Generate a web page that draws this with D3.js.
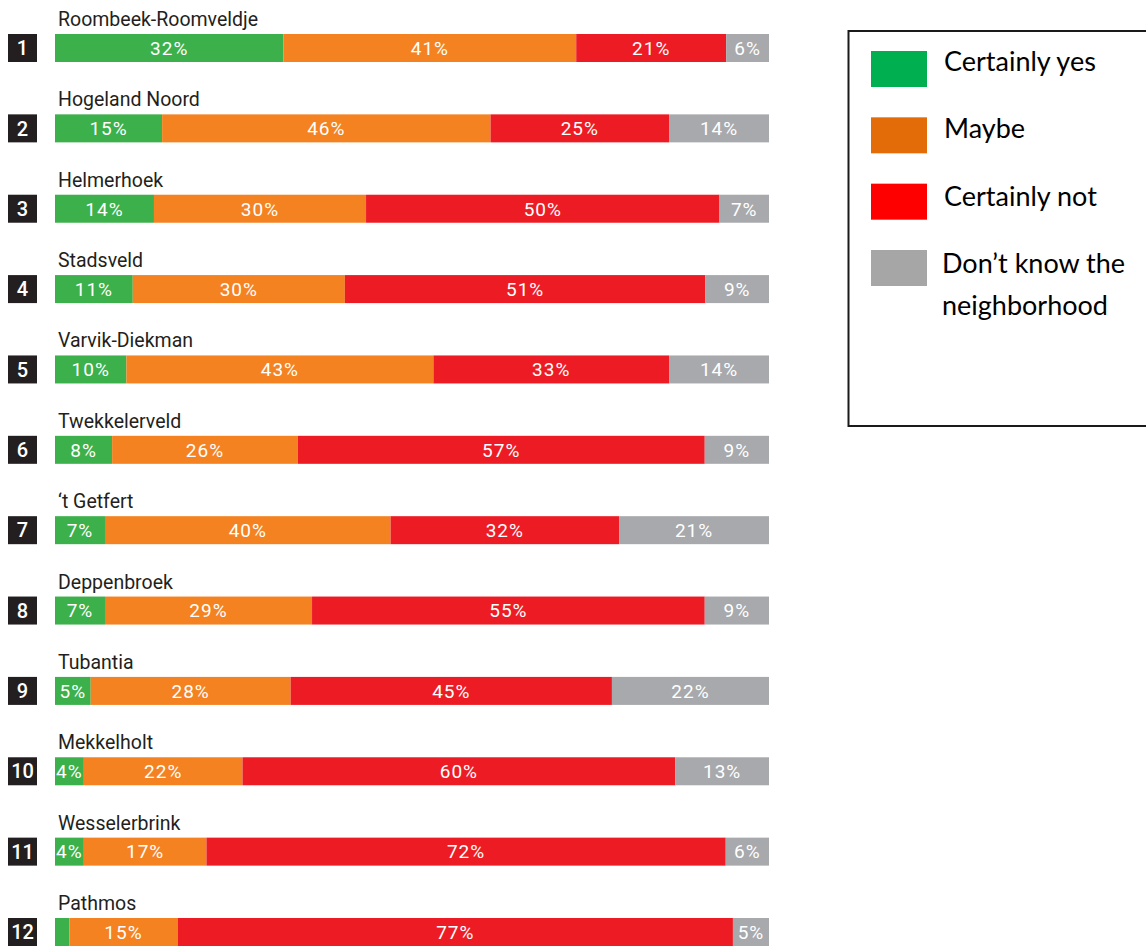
<!DOCTYPE html>
<html>
<head>
<meta charset="utf-8">
<script src="https://cdn.jsdelivr.net/npm/d3@7"></script>
<style>
  html, body { margin: 0; padding: 0; background: #fff; }
  svg { display: block; }
</style>
</head>
<body>
<svg id="chart" width="1146" height="946"></svg>
<script>
// Neighbourhoods, ranked
const categories = [
  "Roombeek-Roomveldje", "Hogeland Noord", "Helmerhoek", "Stadsveld",
  "Varvik-Diekman", "Twekkelerveld", "\u2018t Getfert", "Deppenbroek",
  "Tubantia", "Mekkelholt", "Wesselerbrink", "Pathmos"
];
const ranks = ["1", "2", "3", "4", "5", "6", "7", "8", "9", "10", "11", "12"];

// Answer shares per neighbourhood (%)
const certainlyYes = [32, 15, 14, 11, 10, 8, 7, 7, 5, 4, 4, 2];
const maybe        = [41, 46, 30, 30, 43, 26, 40, 29, 28, 22, 17, 15];
const certainlyNot = [21, 25, 50, 51, 33, 57, 32, 55, 45, 60, 72, 77];
const dontKnow     = [6, 14, 7, 9, 14, 9, 21, 9, 22, 13, 6, 5];

const seriesNames = ["Certainly yes", "Maybe", "Certainly not", "Don\u2019t know the neighborhood"];
const seriesKeys = ["yes", "maybe", "not", "unknown"];
const legendLines = [["Certainly yes"], ["Maybe"], ["Certainly not"], ["Don\u2019t know the", "neighborhood"]];

const barColors = ["#3cb04a", "#f48221", "#ed1c24", "#a7a9ac"];
const legendColors = ["#00b050", "#e36c09", "#ff0000", "#a6a6a6"];

const rows = categories.map((name, i) => ({
  name, rank: ranks[i],
  yes: certainlyYes[i], maybe: maybe[i], not: certainlyNot[i], unknown: dontKnow[i]
}));

const svg = d3.select("#chart");

const barLeft = 55, barRight = 769;
const y = d3.scaleBand()
  .domain(d3.range(rows.length))
  .range([34, 946])
  .paddingInner(0.6516)
  .paddingOuter(0);

const stacked = d3.stack().keys(seriesKeys)(rows);

const row = svg.selectAll("g.row")
  .data(rows)
  .join("g")
  .attr("class", "row")
  .attr("transform", (d, i) => `translate(0,${y(i)})`);

// neighbourhood names
row.append("text")
  .attr("x", 58)
  .attr("y", -8)
  .attr("font-family", "Roboto, sans-serif")
  .attr("font-size", 19.5)
  .attr("fill", "#231f20")
  .text(d => d.name);

// rank badges
row.append("rect")
  .attr("x", 8).attr("y", 0)
  .attr("width", 29).attr("height", y.bandwidth())
  .attr("fill", "#231f20");
row.append("text")
  .attr("x", 22.5)
  .attr("y", y.bandwidth() / 2)
  .attr("dy", "0.36em")
  .attr("text-anchor", "middle")
  .attr("font-family", "Roboto, sans-serif")
  .attr("font-weight", 500)
  .attr("font-size", 20)
  .attr("fill", "#fff")
  .text(d => d.rank);

// stacked segments, each bar scaled to its own total
rows.forEach((d, i) => {
  const total = seriesKeys.reduce((s, k) => s + d[k], 0);
  const x = d3.scaleLinear().domain([0, total]).range([barLeft, barRight]);
  const g = svg.append("g").attr("transform", `translate(0,${y(i)})`);
  stacked.forEach((layer, k) => {
    const seg = layer[i];
    g.append("rect")
      .attr("x", x(seg[0]))
      .attr("y", 0)
      .attr("width", x(seg[1]) - x(seg[0]))
      .attr("height", y.bandwidth())
      .attr("fill", barColors[k]);
    const v = seg[1] - seg[0];
    if (v >= 3) {
      g.append("text")
        .attr("x", (x(seg[0]) + x(seg[1])) / 2)
        .attr("y", y.bandwidth() / 2)
        .attr("dy", "0.36em")
        .attr("text-anchor", "middle")
        .attr("font-family", "Roboto, sans-serif")
        .attr("font-size", 19)
        .attr("letter-spacing", 1)
        .attr("fill", "#fff")
        .text(v + "%");
    }
  });
});

// legend
const legend = svg.append("g");
legend.append("rect")
  .attr("x", 848.5).attr("y", 31)
  .attr("width", 320).attr("height", 395)
  .attr("fill", "none")
  .attr("stroke", "#1a1a1a")
  .attr("stroke-width", 2);

const swatchY = d3.scalePoint().domain(d3.range(seriesNames.length)).range([51, 250]);
const textY = d3.scalePoint().domain(d3.range(seriesNames.length)).range([71, 273]);
const item = legend.selectAll("g.item")
  .data(seriesNames)
  .join("g")
  .attr("class", "item");
item.append("rect")
  .attr("x", 871)
  .attr("y", (d, i) => swatchY(i))
  .attr("width", 56).attr("height", 36)
  .attr("fill", (d, i) => legendColors[i]);
item.append("text")
  .attr("font-family", "Lato, 'Open Sans', sans-serif")
  .attr("font-size", 27)
  .attr("fill", "#000")
  .selectAll("tspan")
  .data((d, i) => legendLines[i].map(t => ({ t, i })))
  .join("tspan")
  .attr("x", d => d.i === 3 ? 942 : 944)
  .attr("y", (d, j) => textY(d.i) + j * 42)
  .text(d => d.t);
</script>
</body>
</html>
